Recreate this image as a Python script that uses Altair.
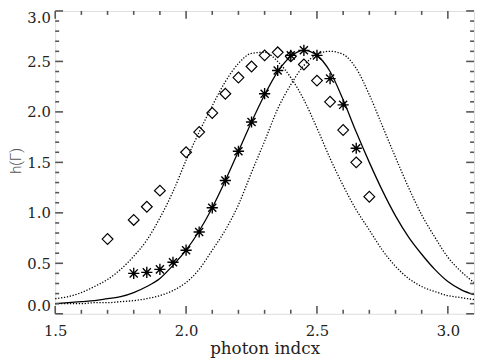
import altair as alt
import pandas as pd

# ---- data ----
curve_x = [1.50, 1.55, 1.60, 1.65, 1.70, 1.75, 1.80, 1.85, 1.90, 1.95, 2.00,
           2.05, 2.10, 2.15, 2.20, 2.25, 2.30, 2.35, 2.40, 2.45, 2.50, 2.55,
           2.60, 2.65, 2.70, 2.75, 2.80, 2.85, 2.90, 2.95, 3.00, 3.05, 3.10]
solid_y = [0.10, 0.11, 0.12, 0.13, 0.15, 0.17, 0.21, 0.27, 0.35, 0.48, 0.63,
           0.82, 1.05, 1.32, 1.61, 1.90, 2.17, 2.40, 2.55, 2.61, 2.56, 2.40,
           2.12, 1.80, 1.50, 1.22, 0.97, 0.76, 0.59, 0.44, 0.32, 0.24, 0.19]
dot_left_y = [0.15, 0.17, 0.21, 0.27, 0.34, 0.44, 0.57, 0.73, 0.95, 1.21, 1.52,
              1.80, 2.06, 2.30, 2.48, 2.58, 2.59, 2.50, 2.34, 2.12, 1.84, 1.54,
              1.27, 1.03, 0.83, 0.63, 0.47, 0.35, 0.27, 0.22, 0.18, 0.16, 0.14]
dot_right_y = [0.10, 0.10, 0.10, 0.11, 0.11, 0.12, 0.13, 0.15, 0.18, 0.23, 0.31,
               0.44, 0.63, 0.83, 1.08, 1.40, 1.71, 2.03, 2.27, 2.46, 2.57, 2.60,
               2.57, 2.43, 2.17, 1.86, 1.55, 1.25, 0.98, 0.76, 0.56, 0.42, 0.31]

star_x = [1.80, 1.85, 1.90, 1.95, 2.00, 2.05, 2.10, 2.15, 2.20, 2.25, 2.30,
          2.35, 2.40, 2.45, 2.50, 2.55, 2.60, 2.65]
star_y = [0.40, 0.41, 0.44, 0.51, 0.63, 0.81, 1.05, 1.32, 1.61, 1.90, 2.18,
          2.41, 2.56, 2.61, 2.56, 2.33, 2.07, 1.64]

diam_x = [1.70, 1.80, 1.85, 1.90, 2.00, 2.05, 2.10, 2.15, 2.20, 2.25, 2.30,
          2.35, 2.40, 2.45, 2.50, 2.55, 2.60, 2.65, 2.70]
diam_y = [0.74, 0.93, 1.06, 1.22, 1.60, 1.80, 1.99, 2.18, 2.34, 2.45, 2.56,
          2.59, 2.55, 2.47, 2.31, 2.10, 1.82, 1.50, 1.16]

x_major = [1.5, 2.0, 2.5, 3.0]
x_minor = [1.6, 1.7, 1.8, 1.9, 2.1, 2.2, 2.3, 2.4, 2.6, 2.7, 2.8, 2.9]
y_major = [0.0, 0.5, 1.0, 1.5, 2.0, 2.5, 3.0]
y_minor = [0.1, 0.2, 0.3, 0.4, 0.6, 0.7, 0.8, 0.9, 1.1, 1.2, 1.3, 1.4,
           1.6, 1.7, 1.8, 1.9, 2.1, 2.2, 2.3, 2.4, 2.6, 2.7, 2.8, 2.9]

x_title = "photon indcx"
y_title = "h(Γ)"

W, H = 426, 308
FRAME = "#555555"

curves = pd.DataFrame({
    "x": curve_x * 3,
    "y": solid_y + dot_left_y + dot_right_y,
    "c": ["solid"] * len(curve_x) + ["left"] * len(curve_x) + ["right"] * len(curve_x),
})
stars = pd.DataFrame({"x": star_x, "y": star_y})
diams = pd.DataFrame({"x": diam_x, "y": diam_y})

xscale = alt.Scale(domain=[1.5, 3.1], nice=False, zero=False)
yscale = alt.Scale(domain=[0, 3], nice=False, zero=False)

xaxis = alt.Axis(values=x_major, format=".1f", ticks=False, domain=False, grid=False,
                 labelFont="DejaVu Serif", labelFontSize=15, labelColor="#222222",
                 labelPadding=10, labelBaseline="top", labelFlush=False,
                 titleFont="DejaVu Serif", titleFontSize=17, titleFontWeight="normal",
                 titleColor="#222222", titleY=40, titleBaseline="alphabetic")
yaxis = alt.Axis(values=y_major, format=".1f", ticks=False, domain=False, grid=False,
                 labelFont="DejaVu Serif", labelFontSize=15, labelColor="#222222",
                 labelPadding=5, labelFlush=True,
                 titleFont="Roboto", titleFontSize=15, titleFontWeight=300,
                 titleColor="#555555", titleAngle=270, titleX=-40, titleY=152,
                 titleBaseline="middle")

X = alt.X("x:Q", scale=xscale, axis=xaxis, title=x_title)
Y = alt.Y("y:Q", scale=yscale, axis=yaxis, title=y_title)

solid = alt.Chart(curves).transform_filter(alt.datum.c == "solid").mark_line(
    color="black", strokeWidth=1.3, interpolate="monotone").encode(x=X, y=Y)
dotted = alt.Chart(curves).transform_filter(alt.datum.c != "solid").mark_line(
    color="black", strokeWidth=1.3, strokeDash=[1.3, 1.7], interpolate="monotone"
).encode(x=X, y=Y, detail="c:N")

star_path = "M0,-1L0,1M-1,0L1,0M-0.72,-0.72L0.72,0.72M-0.72,0.72L0.72,-0.72"
star_layer = alt.Chart(stars).mark_point(
    shape=star_path, filled=False, stroke="black", strokeWidth=1.4, size=130, opacity=1
).encode(x=X, y=Y)
diam_layer = alt.Chart(diams).mark_point(
    shape="diamond", filled=False, stroke="black", strokeWidth=1.2, size=120, opacity=1
).encode(x=X, y=Y)

def xticks(vals, length):
    df = pd.DataFrame({"x": vals})
    b = alt.Chart(df).mark_rule(color=FRAME, strokeWidth=1.6).encode(
        x=X, y=alt.value(H), y2=alt.value(H - length))
    t = alt.Chart(df).mark_rule(color=FRAME, strokeWidth=1.6).encode(
        x=X, y=alt.value(0), y2=alt.value(length))
    return [b, t]

def yticks(vals, length):
    df = pd.DataFrame({"y": vals})
    l = alt.Chart(df).mark_rule(color=FRAME, strokeWidth=1.6).encode(
        y=Y, x=alt.value(0), x2=alt.value(length))
    r = alt.Chart(df).mark_rule(color=FRAME, strokeWidth=1.6).encode(
        y=Y, x=alt.value(W), x2=alt.value(W - length))
    return [l, r]

layers = [dotted, solid, diam_layer, star_layer]
layers += xticks(x_major, 8) + xticks(x_minor, 4)
layers += yticks(y_major, 8) + yticks(y_minor, 4)

chart = alt.layer(*layers).properties(
    width=W, height=H,
    autosize=alt.AutoSizeParams(type="none"),
    padding={"left": 48, "top": 0, "right": 2, "bottom": 44},
).configure_view(stroke=FRAME, strokeWidth=2).configure(background="white")

chart.save("out.html", embed_options={"renderer": "svg", "actions": False})
